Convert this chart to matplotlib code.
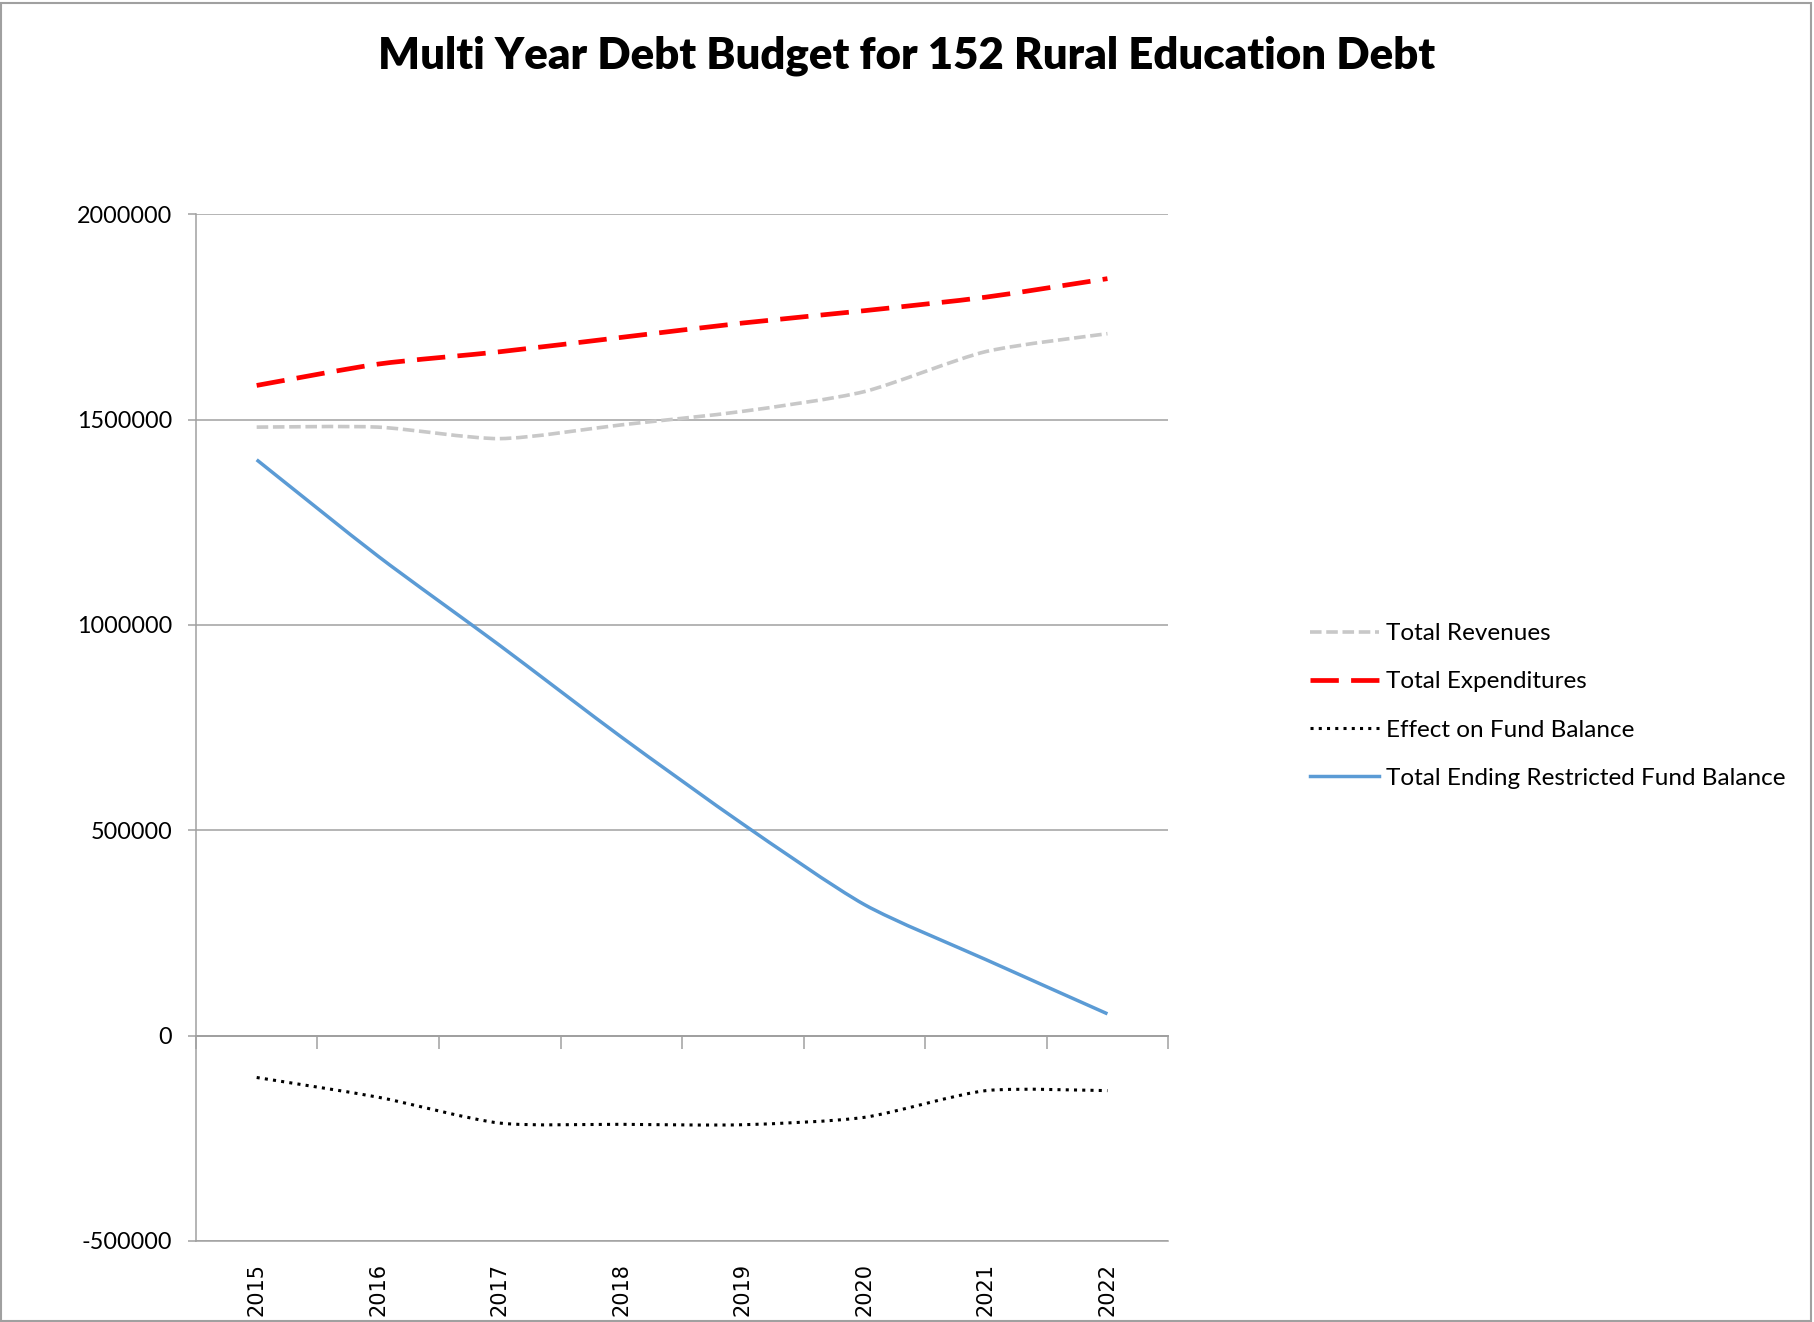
import numpy as np
import matplotlib
matplotlib.use('Agg')
from matplotlib import pyplot as plt
from matplotlib.path import Path
from matplotlib.patches import PathPatch, Rectangle
from matplotlib.lines import Line2D

plt.rcParams['font.family'] = ['Lato', 'DejaVu Sans']

#fiscal years and the four budget series (dollars)
years = ['2015', '2016', '2017', '2018', '2019', '2020', '2021', '2022']
revenues = [1481500, 1481500, 1453500, 1487000, 1520000, 1568000, 1665500, 1709000]
expenditures = [1583000, 1635000, 1665000, 1700000, 1735000, 1765000, 1798000, 1843000]
effect = [-102000, -150000, -213000, -216000, -217000, -199000, -134000, -134000]
ending = [1402000, 1167000, 950000, 727000, 515000, 319000, 185000, 53000]

names = ['Total Revenues', 'Total Expenditures', 'Effect on Fund Balance',
         'Total Ending Restricted Fund Balance']
yticks = [-500000, 0, 500000, 1000000, 1500000, 2000000]

#style for each series: colour, width (pt), dash pattern
styles = [
    ('#c8c8c8', 2.6, (3.2, 1.3)),
    ('#ff0000', 3.4, (6.0, 2.6)),
    ('#000000', 2.2, (1.0, 1.7)),
    ('#5b9bd5', 2.5, None),
]

#smooth curve through the points, built as cubic bezier segments
#(k sets how far the control points reach, smaller = tighter corners)
def smoothpath(x, y, k=0.12):
    p = np.column_stack([x, y]).astype(float)
    verts = [p[0]]
    codes = [Path.MOVETO]
    n = len(p)
    for i in range(n - 1):
        p0 = p[max(i - 1, 0)]
        p3 = p[min(i + 2, n - 1)]
        c1 = p[i] + (p[i + 1] - p0) * k
        c2 = p[i + 1] - (p3 - p[i]) * k
        verts += [c1, c2, p[i + 1]]
        codes += [Path.CURVE4] * 3
    return Path(verts, codes)

fig = plt.figure(figsize=(18.14, 13.22), dpi=100)
ax = fig.add_axes([0.108, 0.0613, 0.536, 0.7767])

x = np.arange(len(years))
series = [revenues, expenditures, effect, ending]
handles = []
for vals, name, (col, lw, dash) in zip(series, names, styles):
    ls = (0, dash) if dash else '-'
    patch = PathPatch(smoothpath(x, vals), facecolor='none', edgecolor=col,
                      linewidth=lw, linestyle=ls, capstyle='butt', zorder=3)
    ax.add_patch(patch)
    handles.append(Line2D([], [], color=col, linewidth=lw, linestyle=ls,
                          dash_capstyle='butt', label=name))

ax.set_xlim(-0.5, len(years) - 0.5)
ax.set_ylim(-500000, 2000000)
ax.set_yticks(yticks)
ax.set_yticklabels([str(v) for v in yticks], fontsize=16.8)
ax.yaxis.grid(True, color='#a0a0a0', linewidth=1.1)
ax.set_axisbelow(True)
ax.tick_params(axis='y', length=6, width=1.1, color='#a0a0a0', pad=11)

ax.set_xticks(x)
ax.set_xticklabels(years, rotation=90, fontsize=15, family=['DejaVu Sans'])
ax.tick_params(axis='x', length=0, pad=16)

for s in ['top', 'right']:
    ax.spines[s].set_visible(False)
for s in ['left', 'bottom']:
    ax.spines[s].set_color('#a0a0a0')
    ax.spines[s].set_linewidth(1.1)

#category axis crosses at zero with ticks between the years
zero = 500000 / 2500000
sec = ax.secondary_xaxis(zero)
sec.set_xticks(np.arange(len(years) + 1) - 0.5)
sec.set_xticklabels([])
sec.tick_params(axis='x', direction='out', length=9, width=1.1, color='#a0a0a0')
sec.spines['bottom'].set_color('#a0a0a0')
sec.spines['bottom'].set_linewidth(1.4)

fig.text(0.5, 0.958, 'Multi Year Debt Budget for 152 Rural Education Debt',
         ha='center', va='center', fontsize=31.5, fontweight='heavy')

fig.legend(handles=handles, loc='center left', bbox_to_anchor=(0.710, 0.466),
           frameon=False, fontsize=17.5, handlelength=2.85, handletextpad=0.29,
           labelspacing=1.12)

fig.patches.append(Rectangle((0.0005, 0.0005), 0.998, 0.997, transform=fig.transFigure,
                             facecolor='none', edgecolor='#a0a0a0', linewidth=1.5))

fig.savefig('out.png', dpi=100)
